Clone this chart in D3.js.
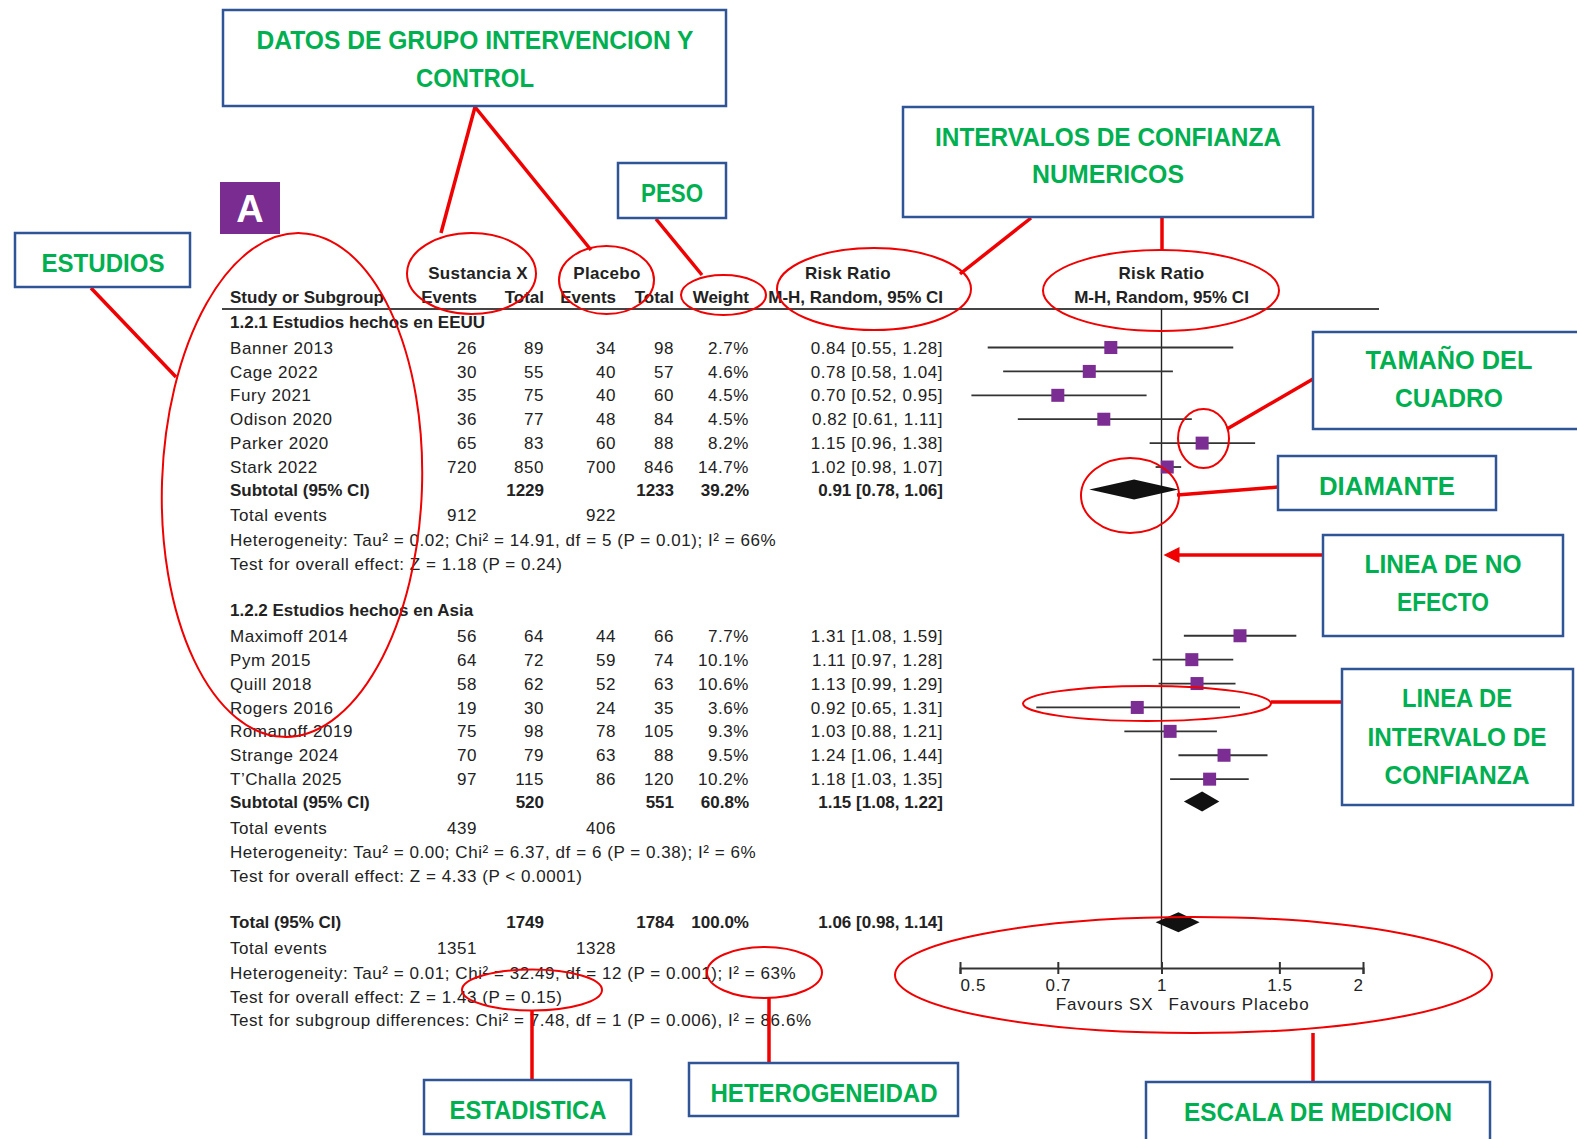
<!DOCTYPE html>
<html>
<head>
<meta charset="UTF-8"/>
<style>
  body { margin: 0; background: #fff; }
  text { font-family: "Liberation Sans", Arial, sans-serif; }
</style>
</head>
<body>
<script src="https://cdn.jsdelivr.net/npm/d3@7/dist/d3.min.js"></script>
<script>
// ---- data ----
var studyNames = ["Banner 2013", "Cage 2022", "Fury 2021", "Odison 2020", "Parker 2020", "Stark 2022",
                  "Maximoff 2014", "Pym 2015", "Quill 2018", "Rogers 2016", "Romanoff 2019", "Strange 2024", "T\u2019Challa 2025"];
var studyGroup = [0, 0, 0, 0, 0, 0, 1, 1, 1, 1, 1, 1, 1];
var eventsSX  = [26, 30, 35, 36, 65, 720, 56, 64, 58, 19, 75, 70, 97];
var totalSX   = [89, 55, 75, 77, 83, 850, 64, 72, 62, 30, 98, 79, 115];
var eventsPl  = [34, 40, 40, 48, 60, 700, 44, 59, 52, 24, 78, 63, 86];
var totalPl   = [98, 57, 60, 84, 88, 846, 66, 74, 63, 35, 105, 88, 120];
var weightPct = [2.7, 4.6, 4.5, 4.5, 8.2, 14.7, 7.7, 10.1, 10.6, 3.6, 9.3, 9.5, 10.2];
var riskRatio = [0.84, 0.78, 0.70, 0.82, 1.15, 1.02, 1.31, 1.11, 1.13, 0.92, 1.03, 1.24, 1.18];
var ciLow     = [0.55, 0.58, 0.52, 0.61, 0.96, 0.98, 1.08, 0.97, 0.99, 0.65, 0.88, 1.06, 1.03];
var ciHigh    = [1.28, 1.04, 0.95, 1.11, 1.38, 1.07, 1.59, 1.28, 1.29, 1.31, 1.21, 1.44, 1.35];

var groupLabels   = ["1.2.1 Estudios hechos en EEUU", "1.2.2 Estudios hechos en Asia"];
var subTotalSX    = [1229, 520];
var subTotalPl    = [1233, 551];
var subWeight     = [39.2, 60.8];
var subRR         = [0.91, 1.15];
var subLow        = [0.78, 1.08];
var subHigh       = [1.06, 1.22];
var subEventsSX   = [912, 439];
var subEventsPl   = [922, 406];
var subHetero     = ["Heterogeneity: Tau\u00b2 = 0.02; Chi\u00b2 = 14.91, df = 5 (P = 0.01); I\u00b2 = 66%",
                     "Heterogeneity: Tau\u00b2 = 0.00; Chi\u00b2 = 6.37, df = 6 (P = 0.38); I\u00b2 = 6%"];
var subTest       = ["Test for overall effect: Z = 1.18 (P = 0.24)",
                     "Test for overall effect: Z = 4.33 (P < 0.0001)"];

var overallTotals = [1749, 1784];       // SX, placebo
var overallWeight = 100.0;
var overallRR     = [1.06, 0.98, 1.14]; // estimate, low, high
var overallEvents = [1351, 1328];
var overallText   = ["Heterogeneity: Tau\u00b2 = 0.01; Chi\u00b2 = 32.49, df = 12 (P = 0.001); I\u00b2 = 63%",
                     "Test for overall effect: Z = 1.43 (P = 0.15)",
                     "Test for subgroup differences: Chi\u00b2 = 7.48, df = 1 (P = 0.006), I\u00b2 = 86.6%"];

var axisTicks   = [0.5, 0.7, 1, 1.5, 2];
var axisLabels  = ["Favours SX", "Favours Placebo"];

// ---- layout ----
var W = 1577, H = 1139;
var svg = d3.select("body").append("svg").attr("width", W).attr("height", H);
svg.append("rect").attr("width", W).attr("height", H).attr("fill", "#fff");

var ink = "#222";
var fs = 17;
var col = { study: 230, evSX: 477, totSX: 544, evPl: 616, totPl: 674, weight: 749, ci: 943 };

var x = d3.scaleLog().domain([0.5, 2]).range([960, 1363]);
var y = d3.scaleLinear().domain([0, 28]).range([348, 348 + 28 * 23.9]);

// build the row list with slot positions
var rows = [];
var slot = -1.09;
groupLabels.forEach(function(g, gi) {
  rows.push({ type: "group", slot: slot, label: g });
  slot += 1.07;
  var idx = d3.range(studyNames.length).filter(function(i) { return studyGroup[i] === gi; });
  idx.forEach(function(i, k) {
    if (k > 0) slot += 1;
    rows.push({ type: "study", slot: slot, i: i });
  });
  slot += 0.94;
  rows.push({ type: "subtotal", slot: slot, g: gi });
  slot += 1.08;
  rows.push({ type: "events", slot: slot, a: subEventsSX[gi], b: subEventsPl[gi] });
  slot += 1.02;
  rows.push({ type: "note", slot: slot, label: subHetero[gi] });
  slot += 1.0;
  rows.push({ type: "note", slot: slot, label: subTest[gi] });
  slot += 1.95;
});
rows.push({ type: "total", slot: slot });
slot += 1.08;
rows.push({ type: "events", slot: slot, a: overallEvents[0], b: overallEvents[1] });
slot += 1.02;
overallText.forEach(function(t) { rows.push({ type: "note", slot: slot, label: t }); slot += 1.0; });

var table = svg.append("g").attr("fill", ink).attr("font-size", fs);

function txt(g, xx, yy, s, anchor, bold) {
  return g.append("text").attr("x", xx).attr("y", yy).attr("dy", "0.36em")
    .attr("text-anchor", anchor || "start")
    .attr("font-weight", bold ? "bold" : "normal")
    .attr("letter-spacing", bold ? 0 : 0.55)
    .text(s);
}
function ciText(r, lo, hi) {
  return r.toFixed(2) + " [" + lo.toFixed(2) + ", " + hi.toFixed(2) + "]";
}

// header
var h1 = 272.5, h2 = 297, rule = 309;
txt(table, 478, h1, "Sustancia X", "middle", true).attr("letter-spacing", 0.3);
txt(table, 607, h1, "Placebo", "middle", true).attr("letter-spacing", 0.3);
txt(table, 848, h1, "Risk Ratio", "middle", true).attr("letter-spacing", 0.3);
txt(table, x(1), h1, "Risk Ratio", "middle", true).attr("letter-spacing", 0.3);
txt(table, col.study, h2, "Study or Subgroup", "start", true);
txt(table, col.evSX, h2, "Events", "end", true);
txt(table, col.totSX, h2, "Total", "end", true);
txt(table, col.evPl, h2, "Events", "end", true);
txt(table, col.totPl, h2, "Total", "end", true);
txt(table, col.weight, h2, "Weight", "end", true);
txt(table, col.ci, h2, "M-H, Random, 95% CI", "end", true);
txt(table, x(1), h2, "M-H, Random, 95% CI", "middle", true);
svg.append("line").attr("x1", 222).attr("x2", 1379).attr("y1", rule).attr("y2", rule)
  .attr("stroke", "#444").attr("stroke-width", 2);

// line of no effect
svg.append("line").attr("x1", x(1)).attr("x2", x(1)).attr("y1", rule).attr("y2", 968)
  .attr("stroke", ink).attr("stroke-width", 1.4);

rows.forEach(function(r) {
  var yy = y(r.slot);
  if (r.type === "group") {
    txt(table, col.study, yy, r.label, "start", true);
  } else if (r.type === "study") {
    var i = r.i;
    txt(table, col.study, yy, studyNames[i]);
    txt(table, col.evSX, yy, eventsSX[i], "end");
    txt(table, col.totSX, yy, totalSX[i], "end");
    txt(table, col.evPl, yy, eventsPl[i], "end");
    txt(table, col.totPl, yy, totalPl[i], "end");
    txt(table, col.weight, yy, weightPct[i].toFixed(1) + "%", "end");
    txt(table, col.ci, yy, ciText(riskRatio[i], ciLow[i], ciHigh[i]), "end");
    svg.append("line").attr("x1", x(ciLow[i])).attr("x2", x(ciHigh[i]))
      .attr("y1", yy).attr("y2", yy).attr("stroke", "#333").attr("stroke-width", 1.8);
    var s = 13;
    svg.append("rect").attr("x", x(riskRatio[i]) - s / 2).attr("y", yy - s / 2)
      .attr("width", s).attr("height", s).attr("fill", "#7b2d93");
  } else if (r.type === "subtotal" || r.type === "total") {
    var isSub = r.type === "subtotal";
    var a = isSub ? subTotalSX[r.g] : overallTotals[0];
    var b = isSub ? subTotalPl[r.g] : overallTotals[1];
    var w = isSub ? subWeight[r.g] : overallWeight;
    var est = isSub ? [subRR[r.g], subLow[r.g], subHigh[r.g]] : overallRR;
    txt(table, col.study, yy, isSub ? "Subtotal (95% CI)" : "Total (95% CI)", "start", true);
    txt(table, col.totSX, yy, a, "end", true);
    txt(table, col.totPl, yy, b, "end", true);
    txt(table, col.weight, yy, w.toFixed(1) + "%", "end", true);
    txt(table, col.ci, yy, ciText(est[0], est[1], est[2]), "end", true);
    var hh = 10;
    svg.append("path")
      .attr("d", "M" + x(est[1]) + "," + yy + "L" + x(est[0]) + "," + (yy - hh) +
                 "L" + x(est[2]) + "," + yy + "L" + x(est[0]) + "," + (yy + hh) + "Z")
      .attr("fill", "#111");
  } else if (r.type === "events") {
    txt(table, col.study, yy, "Total events");
    txt(table, col.evSX, yy, r.a, "end");
    txt(table, col.evPl, yy, r.b, "end");
  } else {
    txt(table, col.study, yy, r.label);
  }
});

// axis
var axisY = 968;
var ax = svg.append("g").attr("transform", "translate(0," + axisY + ")")
  .call(d3.axisBottom(x).tickValues(axisTicks).tickFormat(function(d) { return d; })
        .tickSizeOuter(0).tickSize(6).tickPadding(5));
ax.select(".domain").attr("stroke", "#333").attr("stroke-width", 2);
ax.selectAll(".tick line").attr("y1", -6).attr("y2", 6).attr("stroke", "#333").attr("stroke-width", 2);
ax.selectAll(".tick text").attr("font-size", 17).attr("fill", ink).attr("letter-spacing", 0.6)
  .attr("font-family", "Liberation Sans, Arial, sans-serif")
  .attr("text-anchor", function(d, i) { return i === 0 ? "start" : (i === axisTicks.length - 1 ? "end" : "middle"); });
txt(table, x(1) - 8, 1004, axisLabels[0], "end").attr("letter-spacing", 0.9);
txt(table, x(1) + 7, 1004, axisLabels[1], "start").attr("letter-spacing", 0.9);

// ---- annotations ----
var red = "#f00000";
var ellipses = [
  { cx: 292, cy: 485, rx: 130, ry: 252, rot: 2 },
  { cx: 471.5, cy: 273.5, rx: 64.5, ry: 40.5 },
  { cx: 606.5, cy: 280, rx: 47.5, ry: 34 },
  { cx: 723.5, cy: 295, rx: 42.5, ry: 20 },
  { cx: 874, cy: 289, rx: 97, ry: 41 },
  { cx: 1161, cy: 290.5, rx: 118, ry: 40.5 },
  { cx: 1203.5, cy: 438.5, rx: 25.5, ry: 29.5 },
  { cx: 1130, cy: 495.5, rx: 49, ry: 37.5 },
  { cx: 1147, cy: 703.5, rx: 124, ry: 17.5 },
  { cx: 764.5, cy: 972.5, rx: 57.5, ry: 25.5 },
  { cx: 532, cy: 990, rx: 70, ry: 20.5 },
  { cx: 1193.5, cy: 975, rx: 298.5, ry: 58 }
];
svg.append("g").selectAll("ellipse").data(ellipses).enter().append("ellipse")
  .attr("cx", function(d) { return d.cx; }).attr("cy", function(d) { return d.cy; })
  .attr("rx", function(d) { return d.rx; }).attr("ry", function(d) { return d.ry; })
  .attr("transform", function(d) { return d.rot ? "rotate(" + d.rot + "," + d.cx + "," + d.cy + ")" : null; })
  .attr("fill", "none").attr("stroke", red).attr("stroke-width", 2);

var leaders = [
  [475, 107, 441, 233], [475, 107, 591, 250], [91, 288, 176, 377], [656, 219, 702, 275],
  [1031, 218, 960, 274], [1162, 218, 1162, 250], [1313, 379, 1227, 429], [1278, 487, 1177, 495],
  [1323, 555, 1176, 555], [1342, 702, 1271, 702], [532, 1011, 532, 1080], [769, 997, 769, 1063],
  [1313, 1033, 1313, 1082]
];
svg.append("g").selectAll("line").data(leaders).enter().append("line")
  .attr("x1", function(d) { return d[0]; }).attr("y1", function(d) { return d[1]; })
  .attr("x2", function(d) { return d[2]; }).attr("y2", function(d) { return d[3]; })
  .attr("stroke", red).attr("stroke-width", 3.5);
// arrow head pointing at the line of no effect
svg.append("path").attr("d", "M" + (x(1) + 2) + ",555L" + (x(1) + 18) + ",547L" + (x(1) + 18) + ",563Z")
  .attr("fill", red);

var boxes = [
  { x0: 223, y0: 10, x1: 726, y1: 106, cx: 475, lines: [["DATOS DE GRUPO INTERVENCION Y", 40, 437], ["CONTROL", 77.5, 118]] },
  { x0: 15, y0: 233, x1: 190, y1: 287, cx: 103, lines: [["ESTUDIOS", 262.5, 123]] },
  { x0: 618, y0: 163, x1: 726, y1: 218, cx: 672, lines: [["PESO", 193, 62]] },
  { x0: 903, y0: 107, x1: 1313, y1: 217, cx: 1108, lines: [["INTERVALOS DE CONFIANZA", 137, 346], ["NUMERICOS", 174, 152]] },
  { x0: 1313, y0: 332, x1: 1590, y1: 429, cx: 1449, lines: [["TAMA\u00d1O DEL", 360, 167], ["CUADRO", 398, 108]] },
  { x0: 1278, y0: 456, x1: 1496, y1: 510, cx: 1387, lines: [["DIAMANTE", 486, 136]] },
  { x0: 1323, y0: 535, x1: 1563, y1: 636, cx: 1443, lines: [["LINEA DE NO", 564, 157], ["EFECTO", 602, 92]] },
  { x0: 1342, y0: 669, x1: 1573, y1: 805, cx: 1457, lines: [["LINEA DE", 698, 110], ["INTERVALO DE", 737, 179], ["CONFIANZA", 775, 145]] },
  { x0: 424, y0: 1080, x1: 631, y1: 1134, cx: 528, lines: [["ESTADISTICA", 1110, 157]] },
  { x0: 689, y0: 1063, x1: 958, y1: 1116, cx: 824, lines: [["HETEROGENEIDAD", 1093, 227]] },
  { x0: 1146, y0: 1082, x1: 1490, y1: 1150, cx: 1318, lines: [["ESCALA DE MEDICION", 1112, 268]] }
];
var bx = svg.append("g").selectAll("g").data(boxes).enter().append("g");
bx.append("rect")
  .attr("x", function(d) { return d.x0; }).attr("y", function(d) { return d.y0; })
  .attr("width", function(d) { return d.x1 - d.x0; }).attr("height", function(d) { return d.y1 - d.y0; })
  .attr("fill", "#fff").attr("stroke", "#2f5597").attr("stroke-width", 2.5);
bx.each(function(d) {
  var g = d3.select(this);
  d.lines.forEach(function(l) {
    g.append("text").attr("x", d.cx).attr("y", l[1]).attr("dy", "0.36em")
      .attr("text-anchor", "middle").attr("font-family", "'Open Sans', sans-serif")
      .attr("font-weight", "bold").attr("font-size", 26).attr("fill", "#00b050")
      .attr("textLength", l[2]).attr("lengthAdjust", "spacingAndGlyphs")
      .text(l[0]);
  });
});

// panel letter
svg.append("rect").attr("x", 220).attr("y", 182).attr("width", 60).attr("height", 52).attr("fill", "#7b2c91");
svg.append("text").attr("x", 250).attr("y", 208).attr("dy", "0.36em").attr("text-anchor", "middle")
  .attr("font-family", "'Open Sans', sans-serif").attr("font-weight", "bold")
  .attr("font-size", 38).attr("fill", "#fff").text("A");
</script>
</body>
</html>
